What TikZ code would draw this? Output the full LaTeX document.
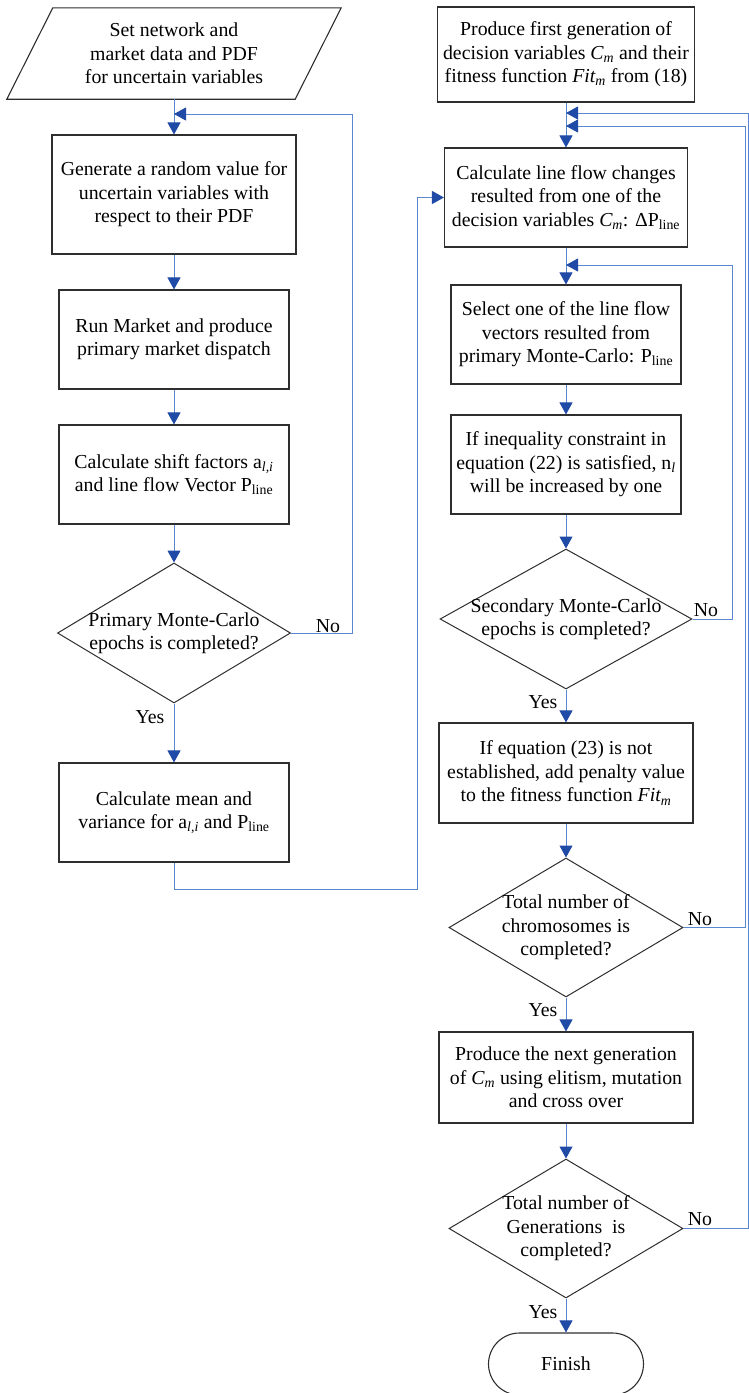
\documentclass[tikz,border=0pt]{standalone}
\usepackage{fontspec}
\setmainfont{Liberation Serif}
\usetikzlibrary{arrows.meta,shapes.geometric}
\definecolor{flowline}{HTML}{5B87D1}
\definecolor{flowtip}{HTML}{1F4BA6}
\definecolor{boxline}{HTML}{2E2E2E}

\begin{document}
\begin{tikzpicture}[x=1pt,y=-1pt,
    every node/.style={font=\fontsize{19.8}{23.5}\selectfont},
    box/.style={draw=boxline,line width=1.1pt,minimum width=230,minimum height=99,align=center,inner sep=0pt},
    dia/.style={draw=boxline,line width=1pt,diamond,minimum width=234,minimum height=139,inner sep=0pt},
    flow/.style={draw=flowline,line width=1pt,-{Triangle[length=12pt,width=13pt,color=flowtip]}}]
            \clip (0,0) rectangle (749,1393);

            \node[minimum width=288,minimum height=91,inner sep=0pt,align=center]
                (in) at (174,53.5) {Set network and\\market data and PDF\\for uncertain variables};
            \draw[boxline,line width=1.1pt] ([xshift=23pt]in.north west) -- ([xshift=23pt]in.north east)
                -- ([xshift=-23pt]in.south east) -- ([xshift=-23pt]in.south west) -- cycle;
            \node[box,minimum width=244,minimum height=119] (gen) at (174,194.5) {Generate a random value for\\uncertain variables with\\respect to their PDF};
            \node[box] (mkt) at (174,339.5) {Run Market and produce\\primary market dispatch};
            \node[box] (shf) at (174,474.5) {Calculate shift factors a\textsubscript{\textit{l,i}}\\and line flow Vector P\textsubscript{line}};
            \node[dia,minimum width=233,minimum height=140] (pmc) at (174,633) {};
            \node[align=center] (pmct) at (pmc) {Primary Monte-Carlo\\epochs is completed?};
            \node[box] (mean) at (174,812.5) {Calculate mean and\\variance for a\textsubscript{\textit{l,i}} and P\textsubscript{line}};

            \node[box,minimum width=257,minimum height=95] (first) at (566,54.5) {Produce first generation of\\decision variables \textit{C\textsubscript{m}} and their\\fitness function \textit{Fit\textsubscript{m}} from (18)};
            \node[box,minimum width=243] (dP) at (566,197.5) {Calculate line flow changes\\resulted from one of the\\decision variables \textit{C\textsubscript{m}}: ΔP\textsubscript{line}};
            \node[box] (sel) at (566,334.5) {Select one of the line flow\\vectors resulted from\\primary Monte-Carlo: P\textsubscript{line}};
            \node[box] (ineq) at (566,464.5) {If inequality constraint in\\equation (22) is satisfied, n\textsubscript{\textit{l}}\\will be increased by one};
            \node[dia,minimum width=252,minimum height=140] (smc) at (566,619) {};
            \node[align=center] (smct) at (smc) {Secondary Monte-Carlo\\epochs is completed?};
            \node[box,minimum width=254,minimum height=100] (pen) at (566,773) {If equation (23) is not\\established, add penalty value\\to the fitness function \textit{Fit\textsubscript{m}}};
            \node[dia] (chr) at (566,927.5) {};
            \node[align=center] (chrt) at (chr) {Total number of\\chromosomes is\\completed?};
            \node[box,minimum width=254,minimum height=91] (nxt) at (566,1077.5) {Produce the next generation\\of \textit{C\textsubscript{m}} using elitism, mutation\\and cross over};
            \node[dia] (gens) at (566,1228.5) {};
            \node[align=center] (genst) at (gens) {Total number of\\Generations\ \ is\\completed?};
            \node[draw=boxline,line width=1.1pt,rounded corners=31pt,minimum width=155,minimum height=62] (fin) at (566,1364) {Finish};

            \coordinate (j1) at (174,114);
            \coordinate (j2) at (566,265);
            \coordinate (j3) at (566,126);
            \coordinate (j4) at (566,113);
            \coordinate (c1) at (417,889);

            \draw[flow] (in) -- (gen);
            \draw[flow] (gen) -- (mkt);
            \draw[flow] (mkt) -- (shf);
            \draw[flow] (shf) -- (pmc);
            \draw[flow] (pmc) -- (mean);
            \draw[flow] (pmc.east) -- ++(61.5,0) |- (j1);
            \draw[flow] (mean.south) |- (c1) |- (dP.west);

            \draw[flow] (first) -- (dP);
            \draw[flow] (dP) -- (sel);
            \draw[flow] (sel) -- (ineq);
            \draw[flow] (ineq) -- (smc);
            \draw[flow] (smc) -- (pen);
            \draw[flow] (pen) -- (chr);
            \draw[flow] (chr) -- (nxt);
            \draw[flow] (nxt) -- (gens);
            \draw[flow] (gens) -- (fin);
            \draw[flow] (smc.east) -- ++(40,0) |- (j2);
            \draw[flow] (chr.east) -- ++(62,0) |- (j3);
            \draw[flow] (gens.east) -- ++(64.5,0) |- (j4);

            \node (no1) at (328,626) {No};
            \node (yes1) at (150,717) {Yes};
            \node (no2) at (706,610) {No};
            \node (yes2) at (543,702) {Yes};
            \node (no3) at (700,919) {No};
            \node (yes3) at (543,1010) {Yes};
            \node (no4) at (700,1219) {No};
            \node (yes4) at (543,1312) {Yes};
        \end{tikzpicture}
\end{document}
